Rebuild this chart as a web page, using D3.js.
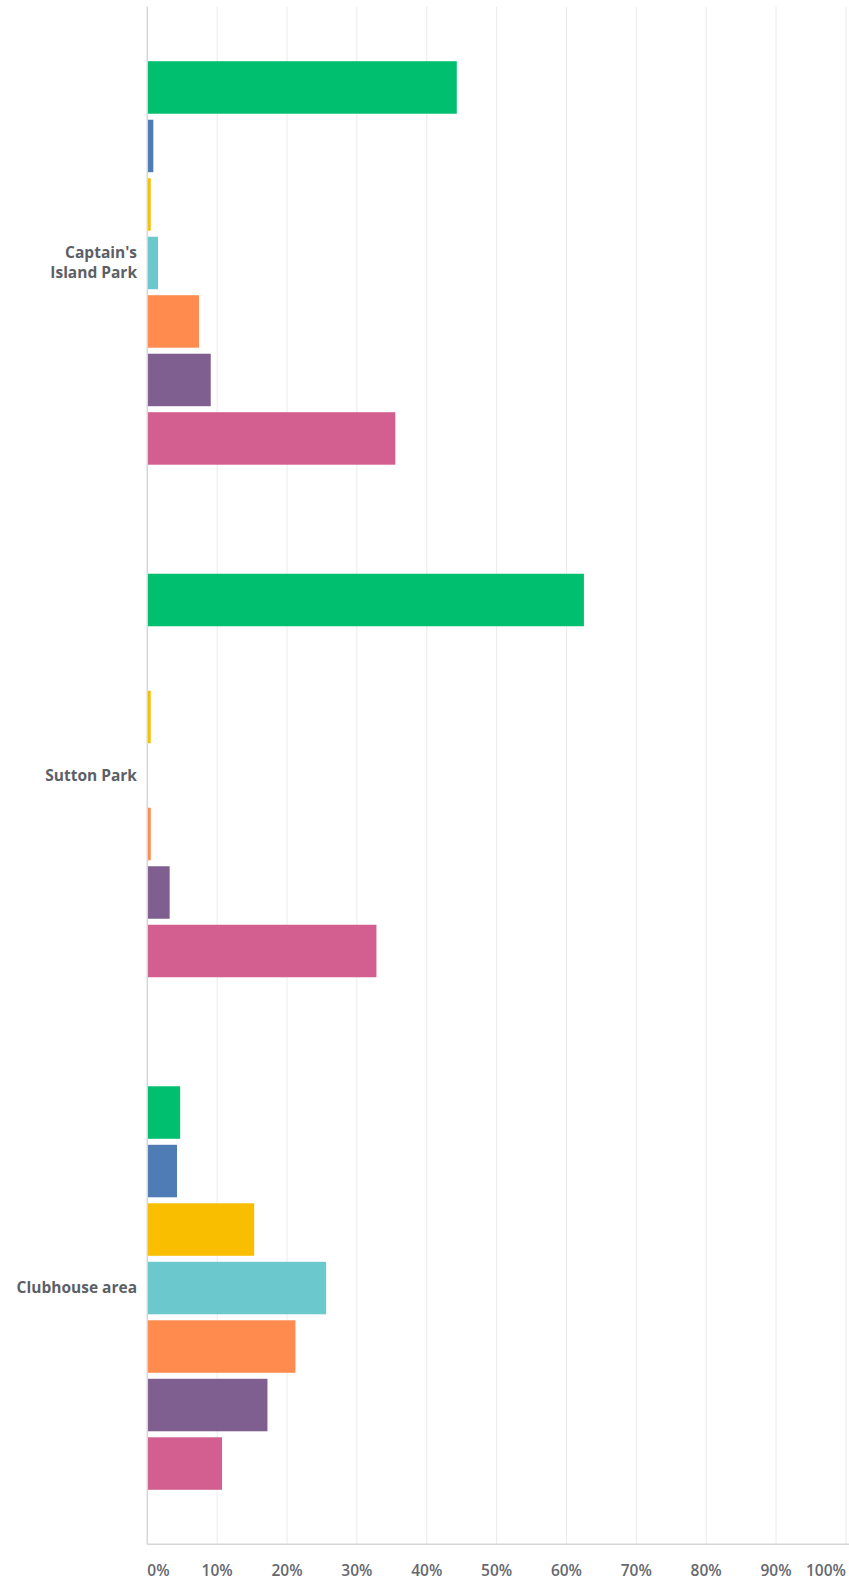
<!DOCTYPE html>
<html>
<head>
<meta charset="utf-8">
<script src="https://cdn.jsdelivr.net/npm/d3@7/dist/d3.min.js"></script>
<style>
  html, body { margin: 0; padding: 0; background: #fff; }
  svg { display: block; }
</style>
</head>
<body>
<svg id="chart" width="849" height="1585"></svg>
<script>
const categories = ["Captain's Island Park", "Sutton Park", "Clubhouse area"];
const categoryLines = [["Captain's", "Island Park"], ["Sutton Park"], ["Clubhouse area"]];
const seriesNames = ["Option 1", "Option 2", "Option 3", "Option 4", "Option 5", "Option 6", "Option 7"];
const seriesColors = ["#00bf6f", "#507cb6", "#f9be00", "#6bc8cd", "#ff8b4f", "#7f5f90", "#d25f90"];
const captainsValues = [44.3, 0.86, 0.49, 1.53, 7.4, 9.08, 35.5];
const suttonValues = [62.5, 0, 0.49, 0, 0.49, 3.2, 32.8];
const clubhouseValues = [4.7, 4.25, 15.3, 25.6, 21.2, 17.2, 10.7];
const tickValues = [0, 10, 20, 30, 40, 50, 60, 70, 80, 90, 100];

(function () {
const valuesByCategory = [captainsValues, suttonValues, clubhouseValues];

const svg = d3.select("#chart");
const plotLeft = 147.3, plotRight = 845.9, plotTop = 6.7, plotBottom = 1544.3;

const x = d3.scaleLinear().domain([0, 100]).range([plotLeft, plotRight]);
const y = d3.scaleBand().domain(categories).range([plotTop, plotBottom]).padding(0);
const groupSpan = 403.5;
const ySub = d3.scaleBand().domain(seriesNames).range([0, groupSpan]).paddingInner(6 / 58.5).paddingOuter(0);

// gridlines
svg.append("g").selectAll("line").data(tickValues.slice(1)).join("line")
  .attr("x1", d => x(d)).attr("x2", d => x(d))
  .attr("y1", plotTop).attr("y2", plotBottom)
  .attr("stroke", "#ebebeb").attr("stroke-width", 1);

// bars
const groups = svg.append("g").selectAll("g").data(categories).join("g")
  .attr("transform", (c) => `translate(0,${y(c) + y.bandwidth() / 2 - groupSpan / 2})`);

groups.selectAll("rect")
  .data((c, i) => valuesByCategory[i].map((v, j) => ({ v, s: seriesNames[j], color: seriesColors[j] })).filter(d => d.v > 0))
  .join("rect")
  .attr("x", x(0))
  .attr("y", d => ySub(d.s))
  .attr("width", d => x(d.v) - x(0))
  .attr("height", ySub.bandwidth())
  .attr("fill", d => d.color);

// axis lines
svg.append("line").attr("x1", plotLeft).attr("x2", plotLeft).attr("y1", plotTop).attr("y2", plotBottom)
  .attr("stroke", "#d6d6d6").attr("stroke-width", 1.5);
svg.append("line").attr("x1", plotLeft).attr("x2", 849).attr("y1", plotBottom).attr("y2", plotBottom)
  .attr("stroke", "#d6d6d6").attr("stroke-width", 1.5);

// category labels
const lab = svg.append("g").selectAll("text").data(categories).join("text")
  .attr("text-anchor", "end")
  .attr("font-family", "'Open Sans', sans-serif")
  .attr("font-weight", 700)
  .attr("font-size", 15.5)
  .attr("fill", "#5c5f66");
lab.each(function (c, i) {
  const lines = categoryLines[i];
  const cy = y(c) + y.bandwidth() / 2;
  const lh = 20;
  d3.select(this).selectAll("tspan").data(lines).join("tspan")
    .attr("x", 137)
    .attr("y", (d, k) => cy + (k - (lines.length - 1) / 2) * lh)
    .attr("dy", "0.35em")
    .text(d => d);
});

// tick labels
svg.append("g").selectAll("text").data(tickValues).join("text")
  .attr("x", d => x(d))
  .attr("y", 1571)
  .attr("dy", "0.35em")
  .attr("text-anchor", d => d === 0 ? "start" : (d === 100 ? "end" : "middle"))
  .attr("font-family", "'Open Sans', sans-serif")
  .attr("font-weight", 600)
  .attr("font-size", 15.5)
  .attr("fill", "#65686e")
  .text(d => d + "%");
})();
</script>
</body>
</html>
